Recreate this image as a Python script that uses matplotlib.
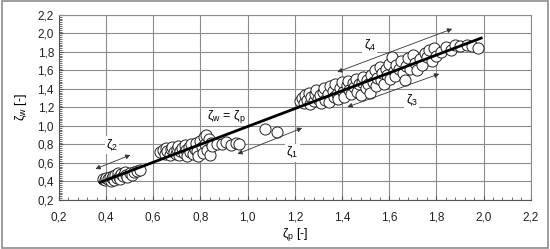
#Scatter of measured vs predicted zeta values with the 1:1 line

import matplotlib.pyplot as plt
from matplotlib.ticker import MultipleLocator, FuncFormatter
from matplotlib.patches import Rectangle

plt.rcParams['font.family'] = ['Liberation Sans Narrow', 'Liberation Sans', 'DejaVu Sans']

#Cluster Near 0.4-0.55
x1 = [0.385, 0.395, 0.40, 0.41, 0.415, 0.42, 0.425, 0.43, 0.435, 0.44, 0.445, 0.45,
      0.455, 0.46, 0.465, 0.47, 0.48, 0.485, 0.49, 0.50, 0.51, 0.52, 0.53, 0.545]
y1 = [0.43, 0.42, 0.44, 0.43, 0.45, 0.41, 0.44, 0.46, 0.42, 0.47, 0.44, 0.49,
      0.45, 0.43, 0.48, 0.46, 0.50, 0.47, 0.45, 0.49, 0.47, 0.50, 0.51, 0.52]

#Cluster Near 0.6-0.97
x2 = [0.63, 0.64, 0.65, 0.655, 0.66, 0.67, 0.675, 0.68, 0.69, 0.695, 0.70, 0.705,
      0.71, 0.715, 0.72, 0.73, 0.735, 0.74, 0.745, 0.75, 0.755, 0.76, 0.77, 0.775,
      0.78, 0.785, 0.79, 0.80, 0.805, 0.81, 0.815, 0.82, 0.825, 0.83, 0.835, 0.84,
      0.845, 0.85, 0.87, 0.89, 0.91, 0.93, 0.95, 0.965]
y2 = [0.72, 0.74, 0.70, 0.76, 0.73, 0.69, 0.75, 0.77, 0.72, 0.70, 0.75, 0.78,
      0.69, 0.73, 0.76, 0.71, 0.79, 0.74, 0.68, 0.77, 0.72, 0.80, 0.70, 0.75,
      0.82, 0.73, 0.68, 0.84, 0.77, 0.71, 0.88, 0.80, 0.90, 0.74, 0.86, 0.69,
      0.82, 0.78, 0.80, 0.81, 0.83, 0.79, 0.82, 0.80]

#Two Isolated Points
x_iso = [1.075, 1.125]
y_iso = [0.97, 0.93]

#Cluster Near 1.2-2.0
x3 = [1.22, 1.23, 1.24, 1.245, 1.25, 1.26, 1.265, 1.27, 1.28, 1.285, 1.29, 1.30,
      1.305, 1.31, 1.32, 1.325, 1.33, 1.34, 1.345, 1.35, 1.36, 1.365, 1.37, 1.38,
      1.385, 1.39, 1.40, 1.405, 1.41, 1.42, 1.425, 1.43, 1.44, 1.445, 1.45, 1.46,
      1.465, 1.47, 1.48, 1.485, 1.49, 1.50, 1.505, 1.51, 1.52, 1.525, 1.53, 1.54,
      1.545, 1.55, 1.56, 1.565, 1.57, 1.58, 1.585, 1.59, 1.60, 1.605, 1.61, 1.62,
      1.625, 1.63, 1.64, 1.65, 1.66, 1.665, 1.67, 1.68, 1.69, 1.70, 1.71, 1.72,
      1.73, 1.74, 1.75, 1.76, 1.77, 1.78, 1.79, 1.80, 1.82, 1.84, 1.86, 1.88,
      1.90, 1.93, 1.95, 1.975]
y3 = [1.27, 1.30, 1.25, 1.33, 1.28, 1.36, 1.24, 1.31, 1.27, 1.35, 1.39, 1.29,
      1.33, 1.25, 1.37, 1.41, 1.28, 1.34, 1.26, 1.43, 1.38, 1.31, 1.45, 1.35,
      1.29, 1.41, 1.47, 1.37, 1.31, 1.44, 1.49, 1.39, 1.34, 1.46, 1.42, 1.51,
      1.37, 1.45, 1.33, 1.48, 1.53, 1.41, 1.50, 1.45, 1.36, 1.55, 1.48, 1.60,
      1.43, 1.52, 1.64, 1.50, 1.57, 1.45, 1.62, 1.55, 1.67, 1.51, 1.74, 1.59,
      1.54, 1.66, 1.62, 1.70, 1.57, 1.50, 1.65, 1.73, 1.62, 1.77, 1.68, 1.60,
      1.72, 1.66, 1.79, 1.74, 1.82, 1.70, 1.84, 1.76, 1.80, 1.85, 1.82, 1.88,
      1.86, 1.88, 1.86, 1.84]

#The Fitted Line
x_line = [0.375, 1.99]
y_line = [0.39, 1.95]

#Arrows (start, end) And Their Labels
arrows = [((0.344, 0.524), (0.514, 0.697)),
          ((0.946, 0.686), (1.242, 0.989)),
          ((1.412, 1.195), (1.823, 1.573)),
          ((1.369, 1.573), (1.878, 2.06))]
arrow_labels = ['ζ$_\\mathregular{2}$', 'ζ$_\\mathregular{1}$', 'ζ$_\\mathregular{3}$', 'ζ$_\\mathregular{4}$']
label_pos = [(0.425, 0.795), (1.19, 0.71), (1.696, 1.28), (1.518, 1.876)]

fig = plt.figure(figsize=(5.5, 2.49), dpi=100)
ax = fig.add_axes([0.107, 0.197, 0.858, 0.743])

gc = '#8c8c8c'
ax.set_xlim(0.2, 2.2)
ax.set_ylim(0.2, 2.2)
ax.xaxis.set_major_locator(MultipleLocator(0.2))
ax.yaxis.set_major_locator(MultipleLocator(0.2))
ax.xaxis.set_minor_locator(MultipleLocator(0.04))
ax.yaxis.set_minor_locator(MultipleLocator(0.02))
fmt = FuncFormatter(lambda v, p: f"{v:.1f}".replace('.', ','))
ax.xaxis.set_major_formatter(fmt)
ax.yaxis.set_major_formatter(fmt)
ax.grid(True, which='major', color=gc, lw=0.8)
ax.set_axisbelow(True)
ax.tick_params(which='both', direction='in', colors='#555555', labelcolor='#222222', labelsize=8.5)
ax.tick_params(which='major', length=3)
ax.tick_params(which='minor', length=2)
ax.tick_params(axis='x', pad=8)
for s in ['top', 'right']:
    ax.spines[s].set_color(gc)
    ax.spines[s].set_linewidth(0.8)
for s in ['left', 'bottom']:
    ax.spines[s].set_color('#555555')

#Scatter Markers
for xs, ys in [(x1, y1), (x2, y2), (x_iso, y_iso), (x3, y3)]:
    ax.scatter(xs, ys, s=64, facecolors='white', edgecolors='#222222', linewidths=0.7, zorder=3)

ax.plot(x_line, y_line, color='black', lw=2.0, zorder=4)

for (a, b), lab, pos in zip(arrows, arrow_labels, label_pos):
    ax.annotate('', xy=b, xytext=a,
                arrowprops=dict(arrowstyle='<|-|>', color='#333333', lw=0.6, mutation_scale=7),
                annotation_clip=False, zorder=5)
    ax.text(pos[0], pos[1], lab, ha='center', va='center', fontsize=9,
            bbox=dict(facecolor='white', edgecolor='none', pad=1), zorder=5)

ax.text(0.91, 1.10, 'ζ$_\\mathregular{w}$ = ζ$_\\mathregular{p}$', ha='center', va='center', fontsize=9, zorder=5)

ax.set_xlabel('ζ$_\\mathregular{p}$ [-]', fontsize=9, labelpad=2)
ax.set_ylabel('ζ$_\\mathregular{w}$ [-]', fontsize=9, labelpad=6)

#Outer Frame
fig.patches.append(Rectangle((0.003, 0.006), 0.993, 0.988, transform=fig.transFigure,
                             fill=False, edgecolor='#8c8c8c', lw=1.2))

fig.savefig("out.png", dpi=100)
